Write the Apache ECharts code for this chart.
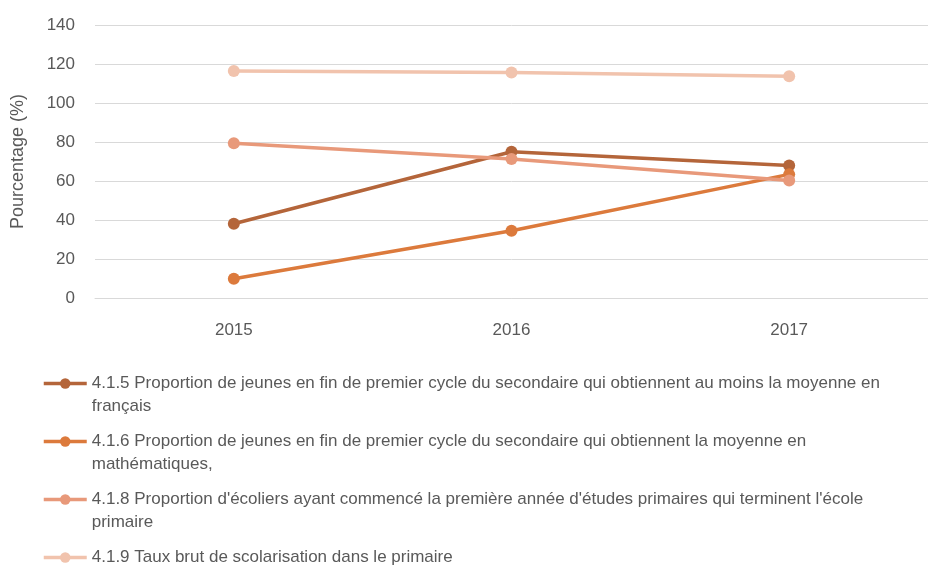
<!DOCTYPE html>
<html><head><meta charset="utf-8">
<script src="https://cdn.jsdelivr.net/npm/echarts@6/dist/echarts.min.js"></script>
<style>html,body{margin:0;padding:0;background:#fff}#c{width:928px;height:566px}</style>
</head><body><div id="c"></div>
<script>
const categories = ['2015', '2016', '2017'];
const seriesNames = [
  "4.1.5 Proportion de jeunes en fin de premier cycle du secondaire qui obtiennent au moins la moyenne en français",
  "4.1.6 Proportion de jeunes en fin de premier cycle du secondaire qui obtiennent la moyenne en mathématiques,",
  "4.1.8 Proportion d'écoliers ayant commencé la première année d'études primaires qui terminent l'école primaire",
  "4.1.9 Taux brut de scolarisation dans le primaire"
];
const legendLabels = [
  "4.1.5 Proportion de jeunes en fin de premier cycle du secondaire qui obtiennent au moins la moyenne en\nfrançais",
  "4.1.6 Proportion de jeunes en fin de premier cycle du secondaire qui obtiennent la moyenne en\nmathématiques,",
  "4.1.8 Proportion d'écoliers ayant commencé la première année d'études primaires qui terminent l'école\nprimaire",
  "4.1.9 Taux brut de scolarisation dans le primaire\n "
];
const values415 = [38.1, 75.0, 68.0];
const values416 = [9.9, 34.5, 63.4];
const values418 = [79.3, 71.3, 60.2];
const values419 = [116.4, 115.6, 113.7];
const colors = ['#B4653A', '#DC7A3C', '#E8997A', '#F1C3AD'];
const allValues = [values415, values416, values418, values419];

const FONT = 'Liberation Sans';
const chart = echarts.init(document.getElementById('c'));
chart.setOption({
  animation: false,
  textStyle: {fontFamily: FONT},
  grid: {left: 95, right: -7, top: 25, bottom: 268},
  xAxis: {
    type: 'category', data: categories, boundaryGap: true,
    axisLine: {lineStyle: {color: '#d9d9d9', width: 1}},
    axisTick: {show: false},
    axisLabel: {color: '#595959', fontSize: 17, margin: 24, fontFamily: FONT}
  },
  yAxis: {
    type: 'value', min: 0, max: 140, interval: 20,
    name: 'Pourcentage (%)', nameLocation: 'middle', nameGap: 68,
    nameTextStyle: {color: '#595959', fontSize: 18, fontFamily: FONT},
    axisLine: {show: false}, axisTick: {show: false},
    axisLabel: {color: '#595959', fontSize: 17, margin: 20, fontFamily: FONT},
    splitLine: {lineStyle: {color: '#d9d9d9', width: 1}}
  },
  legend: {
    orient: 'vertical', left: 37, top: 344, height: 300, itemGap: -11,
    itemWidth: 43, itemHeight: 13,
    data: seriesNames,
    lineStyle: {width: 3.5},
    formatter: name => ' \n' + legendLabels[seriesNames.indexOf(name)],
    textStyle: {color: '#595959', fontSize: 17, lineHeight: 23, fontFamily: FONT}
  },
  series: seriesNames.map((n, i) => ({
    name: n, type: 'line', data: allValues[i],
    symbol: 'circle', symbolSize: 12,
    lineStyle: {width: 3.5, color: colors[i]},
    itemStyle: {color: colors[i]}
  }))
});
</script></body></html>
